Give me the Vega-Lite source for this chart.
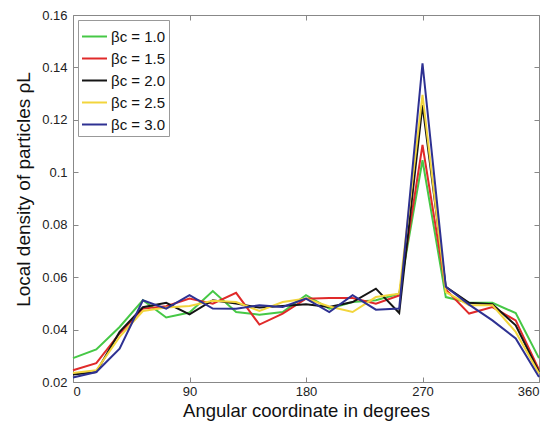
{
  "$schema": "https://vega.github.io/schema/vega-lite/v6.json",
  "width": 466,
  "height": 367,
  "autosize": {"type": "none"},
  "padding": {"left": 73, "top": 15, "right": 12, "bottom": 40},
  "background": "white",
  "config": {
    "font": "Liberation Sans",
    "view": {"stroke": "#888", "strokeWidth": 1},
    "axis": {"grid": false, "domain": false, "labelFont": "Liberation Sans", "titleFont": "Liberation Sans", "labelColor": "#222", "titleColor": "#111", "tickColor": "#888"}
  },
  "data": {"values": [
    {"s":"βc = 1.0","x":0,"y":0.0291},{"s":"βc = 1.0","x":18,"y":0.0324},{"s":"βc = 1.0","x":36,"y":0.0410},{"s":"βc = 1.0","x":54,"y":0.0512},{"s":"βc = 1.0","x":72,"y":0.0446},{"s":"βc = 1.0","x":90,"y":0.0465},{"s":"βc = 1.0","x":108,"y":0.0547},{"s":"βc = 1.0","x":126,"y":0.0467},{"s":"βc = 1.0","x":144,"y":0.0457},{"s":"βc = 1.0","x":162,"y":0.0467},{"s":"βc = 1.0","x":180,"y":0.0531},{"s":"βc = 1.0","x":198,"y":0.0480},{"s":"βc = 1.0","x":216,"y":0.0505},{"s":"βc = 1.0","x":234,"y":0.0512},{"s":"βc = 1.0","x":252,"y":0.0537},{"s":"βc = 1.0","x":270,"y":0.1046},{"s":"βc = 1.0","x":288,"y":0.0524},{"s":"βc = 1.0","x":306,"y":0.0502},{"s":"βc = 1.0","x":324,"y":0.0502},{"s":"βc = 1.0","x":342,"y":0.0463},{"s":"βc = 1.0","x":360,"y":0.0291},
    {"s":"βc = 1.5","x":0,"y":0.0245},{"s":"βc = 1.5","x":18,"y":0.0272},{"s":"βc = 1.5","x":36,"y":0.0385},{"s":"βc = 1.5","x":54,"y":0.0480},{"s":"βc = 1.5","x":72,"y":0.0489},{"s":"βc = 1.5","x":90,"y":0.0518},{"s":"βc = 1.5","x":108,"y":0.0499},{"s":"βc = 1.5","x":126,"y":0.0540},{"s":"βc = 1.5","x":144,"y":0.0419},{"s":"βc = 1.5","x":162,"y":0.0461},{"s":"βc = 1.5","x":180,"y":0.0518},{"s":"βc = 1.5","x":198,"y":0.0520},{"s":"βc = 1.5","x":216,"y":0.0520},{"s":"βc = 1.5","x":234,"y":0.0499},{"s":"βc = 1.5","x":252,"y":0.0530},{"s":"βc = 1.5","x":270,"y":0.1104},{"s":"βc = 1.5","x":288,"y":0.0553},{"s":"βc = 1.5","x":306,"y":0.0461},{"s":"βc = 1.5","x":324,"y":0.0486},{"s":"βc = 1.5","x":342,"y":0.0435},{"s":"βc = 1.5","x":360,"y":0.0247},
    {"s":"βc = 2.0","x":0,"y":0.0229},{"s":"βc = 2.0","x":18,"y":0.0238},{"s":"βc = 2.0","x":36,"y":0.0391},{"s":"βc = 2.0","x":54,"y":0.0485},{"s":"βc = 2.0","x":72,"y":0.0502},{"s":"βc = 2.0","x":90,"y":0.0458},{"s":"βc = 2.0","x":108,"y":0.0512},{"s":"βc = 2.0","x":126,"y":0.0499},{"s":"βc = 2.0","x":144,"y":0.0484},{"s":"βc = 2.0","x":162,"y":0.0490},{"s":"βc = 2.0","x":180,"y":0.0497},{"s":"βc = 2.0","x":198,"y":0.0486},{"s":"βc = 2.0","x":216,"y":0.0505},{"s":"βc = 2.0","x":234,"y":0.0556},{"s":"βc = 2.0","x":252,"y":0.0463},{"s":"βc = 2.0","x":270,"y":0.1256},{"s":"βc = 2.0","x":288,"y":0.0563},{"s":"βc = 2.0","x":306,"y":0.0502},{"s":"βc = 2.0","x":324,"y":0.0497},{"s":"βc = 2.0","x":342,"y":0.0416},{"s":"βc = 2.0","x":360,"y":0.0238},
    {"s":"βc = 2.5","x":0,"y":0.0234},{"s":"βc = 2.5","x":18,"y":0.0245},{"s":"βc = 2.5","x":36,"y":0.0372},{"s":"βc = 2.5","x":54,"y":0.0471},{"s":"βc = 2.5","x":72,"y":0.0484},{"s":"βc = 2.5","x":90,"y":0.0490},{"s":"βc = 2.5","x":108,"y":0.0510},{"s":"βc = 2.5","x":126,"y":0.0505},{"s":"βc = 2.5","x":144,"y":0.0471},{"s":"βc = 2.5","x":162,"y":0.0505},{"s":"βc = 2.5","x":180,"y":0.0518},{"s":"βc = 2.5","x":198,"y":0.0488},{"s":"βc = 2.5","x":216,"y":0.0467},{"s":"βc = 2.5","x":234,"y":0.0524},{"s":"βc = 2.5","x":252,"y":0.0537},{"s":"βc = 2.5","x":270,"y":0.1295},{"s":"βc = 2.5","x":288,"y":0.0543},{"s":"βc = 2.5","x":306,"y":0.0493},{"s":"βc = 2.5","x":324,"y":0.0493},{"s":"βc = 2.5","x":342,"y":0.0391},{"s":"βc = 2.5","x":360,"y":0.0232},
    {"s":"βc = 3.0","x":0,"y":0.0217},{"s":"βc = 3.0","x":18,"y":0.0238},{"s":"βc = 3.0","x":36,"y":0.0327},{"s":"βc = 3.0","x":54,"y":0.0512},{"s":"βc = 3.0","x":72,"y":0.0480},{"s":"βc = 3.0","x":90,"y":0.0531},{"s":"βc = 3.0","x":108,"y":0.0480},{"s":"βc = 3.0","x":126,"y":0.0479},{"s":"βc = 3.0","x":144,"y":0.0493},{"s":"βc = 3.0","x":162,"y":0.0486},{"s":"βc = 3.0","x":180,"y":0.0518},{"s":"βc = 3.0","x":198,"y":0.0467},{"s":"βc = 3.0","x":216,"y":0.0531},{"s":"βc = 3.0","x":234,"y":0.0476},{"s":"βc = 3.0","x":252,"y":0.0480},{"s":"βc = 3.0","x":270,"y":0.1416},{"s":"βc = 3.0","x":288,"y":0.0563},{"s":"βc = 3.0","x":306,"y":0.0495},{"s":"βc = 3.0","x":324,"y":0.0435},{"s":"βc = 3.0","x":342,"y":0.0366},{"s":"βc = 3.0","x":360,"y":0.0219}
  ]},
  "layer": [
    {
      "mark": {"type": "line", "strokeWidth": 2},
      "encoding": {
        "x": {"field": "x", "type": "quantitative", "scale": {"domain": [0, 360], "nice": false},
          "axis": {"title": "Angular coordinate in degrees", "values": [0, 90, 180, 270, 360], "labelFontSize": 13, "titleFontSize": 18.5, "titleFontWeight": "normal", "tickSize": -5, "labelPadding": 8, "titlePadding": 3}},
        "y": {"field": "y", "type": "quantitative", "scale": {"domain": [0.02, 0.16], "nice": false, "zero": false},
          "axis": {"title": "Local density of particles ρL", "values": [0.02, 0.04, 0.06, 0.08, 0.1, 0.12, 0.14, 0.16], "format": ".2~f", "labelFontSize": 13, "titleFontSize": 19, "titleFontWeight": "normal", "tickSize": -5, "labelPadding": 11, "titlePadding": 8, "titleY": 174}},
        "color": {"field": "s", "type": "nominal",
          "scale": {"domain": ["βc = 1.0", "βc = 1.5", "βc = 2.0", "βc = 2.5", "βc = 3.0"], "range": ["#46c846", "#e02a2a", "#151515", "#f2d53c", "#2e3192"]},
          "legend": {"title": null, "orient": "top-left", "offset": 5, "strokeColor": "#999", "fillColor": "white", "padding": 3, "symbolType": "stroke", "symbolSize": 625, "symbolStrokeWidth": 2, "labelFontSize": 15, "labelColor": "#111", "rowPadding": 0, "labelOffset": 3}}
      }
    },
    {
      "mark": {"type": "line", "opacity": 0},
      "encoding": {
        "x": {"field": "x", "type": "quantitative", "scale": {"domain": [0, 360], "nice": false},
          "axis": {"orient": "top", "title": null, "labels": false, "values": [0, 90, 180, 270, 360], "tickSize": -5}},
        "y": {"field": "y", "type": "quantitative", "scale": {"domain": [0.02, 0.16], "nice": false, "zero": false},
          "axis": {"orient": "right", "title": null, "labels": false, "values": [0.02, 0.04, 0.06, 0.08, 0.1, 0.12, 0.14, 0.16], "tickSize": -5}}
      }
    }
  ],
  "resolve": {"scale": {"x": "independent", "y": "independent"}}
}
